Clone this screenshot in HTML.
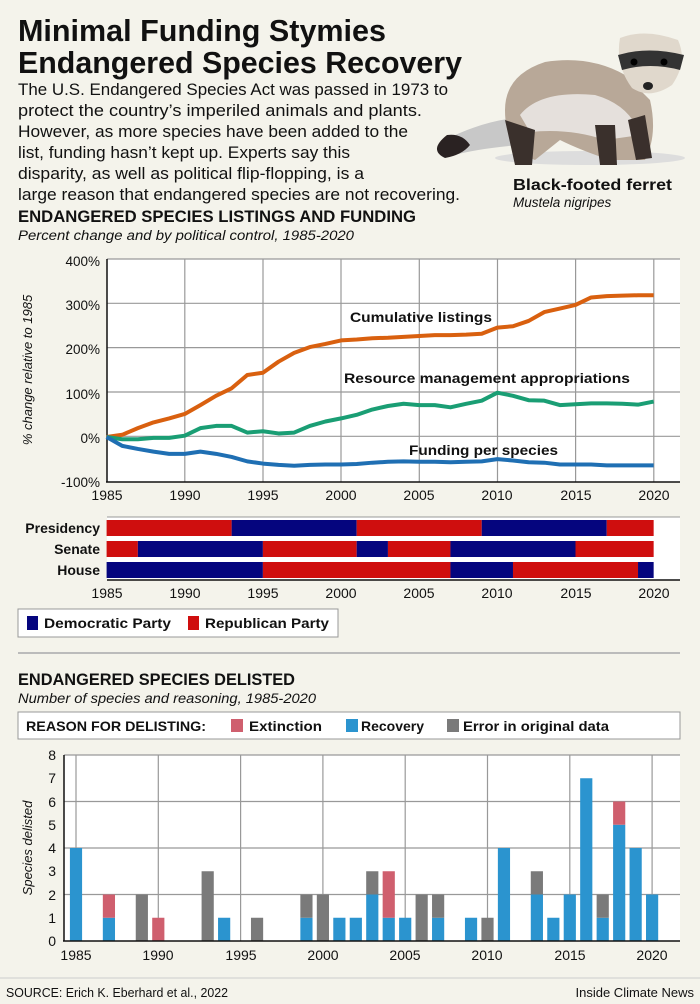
<!DOCTYPE html>
<html><head><meta charset="utf-8"><style>
body{margin:0;background:#f4f3eb;}
svg{display:block;font-family:"Liberation Sans",sans-serif;}
</style></head><body>
<svg width="700" height="1004" viewBox="0 0 700 1004" xmlns="http://www.w3.org/2000/svg">
<rect width="700" height="1004" fill="#f4f3eb"/>
<!-- Header -->
<text x="18" y="41" font-size="31" font-weight="bold" textLength="368" lengthAdjust="spacingAndGlyphs" fill="#111">Minimal Funding Stymies</text>
<text x="18" y="73" font-size="31" font-weight="bold" textLength="444" lengthAdjust="spacingAndGlyphs" fill="#111">Endangered Species Recovery</text>
<g font-size="17" fill="#111">
<text x="18" y="95" textLength="430" lengthAdjust="spacingAndGlyphs">The U.S. Endangered Species Act was passed in 1973 to</text>
<text x="18" y="116" textLength="404" lengthAdjust="spacingAndGlyphs">protect the country’s imperiled animals and plants.</text>
<text x="18" y="137" textLength="390" lengthAdjust="spacingAndGlyphs">However, as more species have been added to the</text>
<text x="18" y="158" textLength="332" lengthAdjust="spacingAndGlyphs">list, funding hasn’t kept up. Experts say this</text>
<text x="18" y="179" textLength="346" lengthAdjust="spacingAndGlyphs">disparity, as well as political flip-flopping, is a</text>
<text x="18" y="200" textLength="442" lengthAdjust="spacingAndGlyphs">large reason that endangered species are not recovering.</text>
</g>
<!-- Ferret -->
<g>
<ellipse cx="590" cy="158" rx="95" ry="7" fill="#ddd"/>
<path d="M515 118 Q480 122 445 140 Q432 155 450 156 Q480 148 520 145 Z" fill="#c8c8c8"/>
<path d="M447 135 Q428 150 445 158 Q462 155 470 145 Q462 133 447 135Z" fill="#2a2222"/>
<path d="M505 110 Q505 75 545 62 Q590 55 625 75 L650 100 Q658 135 645 160 L610 160 Q580 150 560 140 L535 160 Q505 150 505 110Z" fill="#b8a898"/>
<path d="M520 115 Q540 90 595 95 Q630 105 640 135 L605 140 Q570 128 530 132Z" fill="#e5e0dc"/>
<path d="M505 120 L515 165 L532 165 L535 130Z M595 125 L600 165 L617 165 L615 125Z M628 120 L636 160 L652 158 L645 115Z" fill="#3a302c"/>
<path d="M620 38 Q645 28 678 40 Q688 62 672 85 Q650 100 632 88 Q615 65 620 38Z" fill="#e0d8cc"/>
<path d="M618 55 Q648 46 684 55 L680 70 Q650 62 622 70Z" fill="#333"/>
<circle cx="634" cy="62" r="3.5" fill="#000"/><circle cx="664" cy="62" r="3.5" fill="#000"/>
<ellipse cx="648" cy="86" rx="5" ry="4" fill="#222"/>
</g>
<text x="513" y="190" font-size="16" font-weight="bold" textLength="159" lengthAdjust="spacingAndGlyphs" fill="#111">Black-footed ferret</text>
<text x="513" y="207" font-size="13.5" font-style="italic" fill="#111">Mustela nigripes</text>
<!-- Section 1 -->
<text x="18" y="222" font-size="16.5" font-weight="bold" textLength="398" lengthAdjust="spacingAndGlyphs" fill="#111">ENDANGERED SPECIES LISTINGS AND FUNDING</text>
<text x="18" y="240" font-size="13.5" font-style="italic" textLength="336" lengthAdjust="spacingAndGlyphs" fill="#111">Percent change and by political control, 1985-2020</text>
<!-- line chart -->
<rect x="107" y="259" width="573" height="223" fill="#fff"/>
<g stroke="#999" stroke-width="1.2">
<line x1="107" y1="259" x2="680" y2="259"/><line x1="107" y1="303.3" x2="680" y2="303.3"/><line x1="107" y1="347.6" x2="680" y2="347.6"/><line x1="107" y1="392" x2="680" y2="392"/><line x1="107" y1="436.3" x2="680" y2="436.3"/>
<line x1="184.8" y1="259" x2="184.8" y2="482"/><line x1="263" y1="259" x2="263" y2="482"/><line x1="341" y1="259" x2="341" y2="482"/><line x1="419.3" y1="259" x2="419.3" y2="482"/><line x1="497.5" y1="259" x2="497.5" y2="482"/><line x1="575.6" y1="259" x2="575.6" y2="482"/><line x1="653.8" y1="259" x2="653.8" y2="482"/>
</g>
<line x1="107" y1="259" x2="107" y2="482" stroke="#111" stroke-width="1.5"/>
<line x1="106" y1="482" x2="680" y2="482" stroke="#111" stroke-width="1.5"/>
<g transform="translate(106.6,437) scale(15.63,-0.443)" fill="none" stroke-width="4" stroke-linejoin="round">
<polyline vector-effect="non-scaling-stroke" stroke="#d9600f" points="0,0 1,5 2,20 3,33 4,42 5,52 6,72 7,93 8,110 9,140 10,145 11,170 12,190 13,203 14,210 15,218 16,220 17,223 18,224 19,226 20,228 21,230 22,230 23,231 24,233 25,247 26,250 27,262 28,282 29,290 30,298 31,315 32,318 33,319 34,320 35,320"/>
<polyline vector-effect="non-scaling-stroke" stroke="#1a9e74" points="0,0 1,-5 2,-5 3,-2 4,-2 5,3 6,20 7,25 8,25 9,10 10,13 11,8 12,10 13,25 14,35 15,42 16,50 17,62 18,70 19,75 20,72 21,72 22,67 23,75 24,82 25,100 26,93 27,83 28,82 29,72 30,74 31,76 32,76 33,75 34,73 35,80"/>
<polyline vector-effect="non-scaling-stroke" stroke="#1f6fb3" points="0,0 1,-20 2,-27 3,-33 4,-38 5,-38 6,-33 7,-38 8,-45 9,-55 10,-60 11,-63 12,-65 13,-63 14,-62 15,-62 16,-61 17,-58 18,-56 19,-55 20,-56 21,-56 22,-57 23,-56 24,-55 25,-50 26,-53 27,-57 28,-58 29,-62 30,-62 31,-62 32,-64 33,-64 34,-64 35,-64"/>
</g>
<g font-size="13.5" font-weight="bold" fill="#111">
<text x="350" y="322" textLength="142" lengthAdjust="spacingAndGlyphs">Cumulative listings</text>
<text x="344" y="383" textLength="286" lengthAdjust="spacingAndGlyphs">Resource management appropriations</text>
<text x="409" y="455" textLength="149" lengthAdjust="spacingAndGlyphs">Funding per species</text>
</g>
<g font-size="13.5" fill="#111" text-anchor="end">
<text x="100" y="266">400%</text><text x="100" y="310">300%</text><text x="100" y="354">200%</text><text x="100" y="399">100%</text><text x="100" y="443">0%</text><text x="100" y="487">-100%</text>
</g>
<text transform="translate(32,370) rotate(-90)" font-size="13" font-style="italic" text-anchor="middle" fill="#111">% change relative to 1985</text>
<g font-size="14" fill="#111" text-anchor="middle">
<text x="107" y="500">1985</text><text x="185" y="500">1990</text><text x="263" y="500">1995</text><text x="341" y="500">2000</text><text x="419" y="500">2005</text><text x="497" y="500">2010</text><text x="576" y="500">2015</text><text x="654" y="500">2020</text>
</g>
<!-- party bars -->
<rect x="107" y="517" width="573" height="63" fill="#fff"/>
<g transform="translate(106.6,0) scale(15.63,1)">
<rect x="0" y="520" width="8" height="16" fill="#cf0e0e"/><rect x="8" y="520" width="8" height="16" fill="#05057e"/><rect x="16" y="520" width="8" height="16" fill="#cf0e0e"/><rect x="24" y="520" width="8" height="16" fill="#05057e"/><rect x="32" y="520" width="3" height="16" fill="#cf0e0e"/>
<rect x="0" y="541" width="2" height="16" fill="#cf0e0e"/><rect x="2" y="541" width="8" height="16" fill="#05057e"/><rect x="10" y="541" width="6" height="16" fill="#cf0e0e"/><rect x="16" y="541" width="2" height="16" fill="#05057e"/><rect x="18" y="541" width="4" height="16" fill="#cf0e0e"/><rect x="22" y="541" width="8" height="16" fill="#05057e"/><rect x="30" y="541" width="5" height="16" fill="#cf0e0e"/>
<rect x="0" y="562" width="10" height="16" fill="#05057e"/><rect x="10" y="562" width="12" height="16" fill="#cf0e0e"/><rect x="22" y="562" width="4" height="16" fill="#05057e"/><rect x="26" y="562" width="8" height="16" fill="#cf0e0e"/><rect x="34" y="562" width="1" height="16" fill="#05057e"/>
</g>
<line x1="107" y1="580" x2="680" y2="580" stroke="#111" stroke-width="1.5"/>
<line x1="107" y1="517" x2="680" y2="517" stroke="#999" stroke-width="1"/>
<g font-size="14" font-weight="bold" fill="#111" text-anchor="end">
<text x="100" y="533">Presidency</text><text x="100" y="554">Senate</text><text x="100" y="575">House</text>
</g>
<g font-size="14" fill="#111" text-anchor="middle">
<text x="107" y="598">1985</text><text x="185" y="598">1990</text><text x="263" y="598">1995</text><text x="341" y="598">2000</text><text x="419" y="598">2005</text><text x="497" y="598">2010</text><text x="576" y="598">2015</text><text x="654" y="598">2020</text>
</g>
<!-- party legend -->
<rect x="18" y="609" width="320" height="28" fill="#fff" stroke="#999"/>
<rect x="27" y="616" width="11" height="14" fill="#05057e"/>
<text x="44" y="628" font-size="14" font-weight="bold" fill="#111" textLength="127" lengthAdjust="spacingAndGlyphs">Democratic Party</text>
<rect x="188" y="616" width="11" height="14" fill="#cf0e0e"/>
<text x="205" y="628" font-size="14" font-weight="bold" fill="#111" textLength="124" lengthAdjust="spacingAndGlyphs">Republican Party</text>
<line x1="18" y1="653" x2="680" y2="653" stroke="#bbb" stroke-width="2"/>
<!-- Section 2 -->
<text x="18" y="685" font-size="16.5" font-weight="bold" textLength="277" lengthAdjust="spacingAndGlyphs" fill="#111">ENDANGERED SPECIES DELISTED</text>
<text x="18" y="703" font-size="13.5" font-style="italic" textLength="298" lengthAdjust="spacingAndGlyphs" fill="#111">Number of species and reasoning, 1985-2020</text>
<rect x="18" y="712" width="662" height="27" fill="#fff" stroke="#999"/>
<text x="26" y="731" font-size="14" font-weight="bold" fill="#111" textLength="180" lengthAdjust="spacingAndGlyphs">REASON FOR DELISTING:</text>
<rect x="231" y="719" width="12" height="13" fill="#cf5f6e"/>
<text x="249" y="731" font-size="14" font-weight="bold" fill="#111" textLength="73" lengthAdjust="spacingAndGlyphs">Extinction</text>
<rect x="346" y="719" width="12" height="13" fill="#2b94cf"/>
<text x="361" y="731" font-size="14" font-weight="bold" fill="#111" textLength="63" lengthAdjust="spacingAndGlyphs">Recovery</text>
<rect x="447" y="719" width="12" height="13" fill="#7a7a7a"/>
<text x="463" y="731" font-size="14" font-weight="bold" fill="#111" textLength="146" lengthAdjust="spacingAndGlyphs">Error in original data</text>
<!-- bar chart -->
<rect x="64" y="755" width="616" height="186" fill="#fff"/>
<g stroke="#999" stroke-width="1.2">
<line x1="64" y1="755" x2="680" y2="755"/><line x1="64" y1="801.5" x2="680" y2="801.5"/><line x1="64" y1="848" x2="680" y2="848"/><line x1="64" y1="894.5" x2="680" y2="894.5"/>
<line x1="76" y1="755" x2="76" y2="941"/><line x1="158.3" y1="755" x2="158.3" y2="941"/><line x1="240.6" y1="755" x2="240.6" y2="941"/><line x1="322.9" y1="755" x2="322.9" y2="941"/><line x1="405.2" y1="755" x2="405.2" y2="941"/><line x1="487.5" y1="755" x2="487.5" y2="941"/><line x1="569.8" y1="755" x2="569.8" y2="941"/><line x1="652.1" y1="755" x2="652.1" y2="941"/>
</g>
<g transform="translate(76,941) scale(16.46,-23.25)">
<g fill="#2b94cf">
<rect x="-0.37" y="0" width="0.74" height="4"/><rect x="1.63" y="0" width="0.74" height="1"/><rect x="8.63" y="0" width="0.74" height="1"/><rect x="13.63" y="0" width="0.74" height="1"/><rect x="15.63" y="0" width="0.74" height="1"/><rect x="16.63" y="0" width="0.74" height="1"/><rect x="17.63" y="0" width="0.74" height="2"/><rect x="18.63" y="0" width="0.74" height="1"/><rect x="19.63" y="0" width="0.74" height="1"/><rect x="21.63" y="0" width="0.74" height="1"/><rect x="23.63" y="0" width="0.74" height="1"/><rect x="25.63" y="0" width="0.74" height="4"/><rect x="27.63" y="0" width="0.74" height="2"/><rect x="28.63" y="0" width="0.74" height="1"/><rect x="29.63" y="0" width="0.74" height="2"/><rect x="30.63" y="0" width="0.74" height="7"/><rect x="31.63" y="0" width="0.74" height="1"/><rect x="32.63" y="0" width="0.74" height="5"/><rect x="33.63" y="0" width="0.74" height="4"/><rect x="34.63" y="0" width="0.74" height="2"/>
</g>
<g fill="#cf5f6e">
<rect x="1.63" y="1" width="0.74" height="1"/><rect x="4.63" y="0" width="0.74" height="1"/><rect x="18.63" y="1" width="0.74" height="2"/><rect x="32.63" y="5" width="0.74" height="1"/>
</g>
<g fill="#7a7a7a">
<rect x="3.63" y="0" width="0.74" height="2"/><rect x="7.63" y="0" width="0.74" height="3"/><rect x="10.63" y="0" width="0.74" height="1"/><rect x="13.63" y="1" width="0.74" height="1"/><rect x="14.63" y="0" width="0.74" height="2"/><rect x="17.63" y="2" width="0.74" height="1"/><rect x="20.63" y="0" width="0.74" height="2"/><rect x="21.63" y="1" width="0.74" height="1"/><rect x="24.63" y="0" width="0.74" height="1"/><rect x="27.63" y="2" width="0.74" height="1"/><rect x="31.63" y="1" width="0.74" height="1"/>
</g>
</g>
<line x1="64" y1="755" x2="64" y2="941" stroke="#111" stroke-width="1.5"/>
<line x1="63" y1="941" x2="680" y2="941" stroke="#111" stroke-width="1.5"/>
<g font-size="14" fill="#111" text-anchor="end">
<text x="56" y="946">0</text><text x="56" y="923">1</text><text x="56" y="900">2</text><text x="56" y="876">3</text><text x="56" y="853">4</text><text x="56" y="830">5</text><text x="56" y="807">6</text><text x="56" y="783">7</text><text x="56" y="760">8</text>
</g>
<text transform="translate(32,848) rotate(-90)" font-size="13" font-style="italic" text-anchor="middle" fill="#111">Species delisted</text>
<g font-size="14" fill="#111" text-anchor="middle">
<text x="76" y="960">1985</text><text x="158" y="960">1990</text><text x="241" y="960">1995</text><text x="323" y="960">2000</text><text x="405" y="960">2005</text><text x="487" y="960">2010</text><text x="570" y="960">2015</text><text x="652" y="960">2020</text>
</g>
<line x1="0" y1="978" x2="700" y2="978" stroke="#ccc"/>
<text x="6" y="997" font-size="13" fill="#111" textLength="222" lengthAdjust="spacingAndGlyphs">SOURCE: Erich K. Eberhard et al., 2022</text>
<text x="694" y="997" font-size="13" fill="#111" text-anchor="end">Inside Climate News</text>
</svg>
</body></html>
